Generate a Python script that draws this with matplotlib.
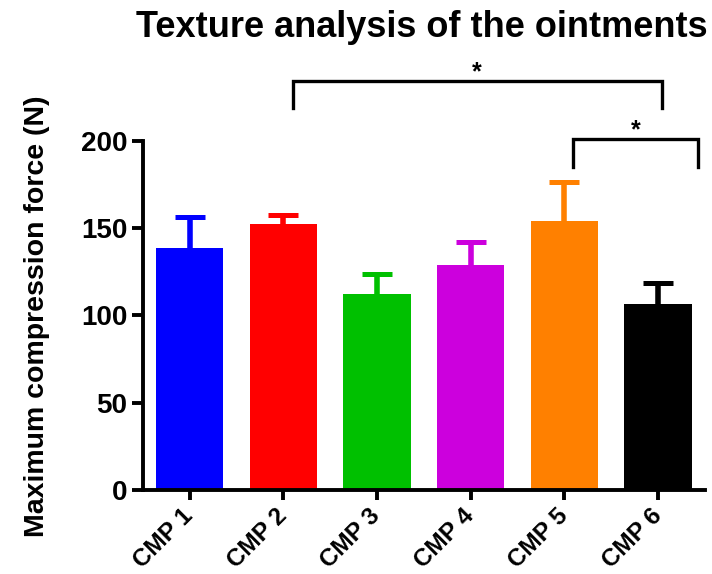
import matplotlib.pyplot as plt
import numpy as np

plt.rcParams['font.family'] = ['Liberation Sans', 'DejaVu Sans']
plt.rcParams['font.weight'] = 'bold'

# Mean maximum compression force and SD for each ointment
samples = ['CMP 1', 'CMP 2', 'CMP 3', 'CMP 4', 'CMP 5', 'CMP 6']
force = [138.8, 152.2, 112.5, 129.1, 154.0, 106.6]
force_sd = [17.5, 5.0, 11.0, 13.0, 22.5, 12.0]
bar_colors = ['#0000FF', '#FF0000', '#00C000', '#CC00DD', '#FF8000', '#000000']

# Significance brackets: left x, right x, bar height, leg bottom
brackets = [(1.10, 5.04, 234, 219), (4.09, 5.43, 201, 185)]
bracket_labels = ['*', '*']

fig = plt.figure(figsize=(7.12, 5.74), dpi=100)
ax = fig.add_axes([0.2004, 0.1463, 0.7896, 0.6086])

x = np.arange(len(samples))
ax.bar(x, force, width=0.72, color=bar_colors, zorder=2)

# upper-only SD bars, same colour as the bar
top = np.array(force) + np.array(force_sd)
ax.vlines(x, force, top, colors=bar_colors, lw=4.0, zorder=1)
for xi, t, c in zip(x, top, bar_colors):
    ax.plot(xi, t, marker='_', ms=21.6, mew=3.6, color=c, zorder=1)

for (x1, x2, yb, yl), lab in zip(brackets, bracket_labels):
    ax.plot([x1, x1, x2, x2], [yl, yb, yb, yl], color='black', lw=2.4,
            clip_on=False, solid_joinstyle='miter')
    ax.text((x1 + x2) / 2, yb - 2, lab, ha='center', va='bottom',
            fontsize=18, fontweight='bold', clip_on=False)

ax.set_xlim(-0.5, 5.5)
ax.set_ylim(0, 200)
ax.set_yticks([0, 50, 100, 150, 200])
ax.set_xticks(x)
ax.set_xticklabels(samples, rotation=45, ha='right', va='center',
                   rotation_mode='anchor', fontsize=17.5, fontweight='bold')
ax.tick_params(axis='y', labelsize=20, width=2.8, length=8, pad=3)
ax.tick_params(axis='x', width=2.8, length=7, pad=9)
for lab in ax.get_yticklabels():
    lab.set_fontweight('bold')

for side in ['top', 'right']:
    ax.spines[side].set_visible(False)
for side in ['left', 'bottom']:
    ax.spines[side].set_linewidth(2.8)

ax.set_ylabel('Maximum compression force (N)', fontsize=20.5, fontweight='bold')
ax.yaxis.set_label_coords(-0.165, 0.498)
fig.text(0.593, 1 - 37 / 574, 'Texture analysis of the ointments',
         ha='center', va='baseline', fontsize=26, fontweight='bold')

fig.savefig('out.png', dpi=100)
